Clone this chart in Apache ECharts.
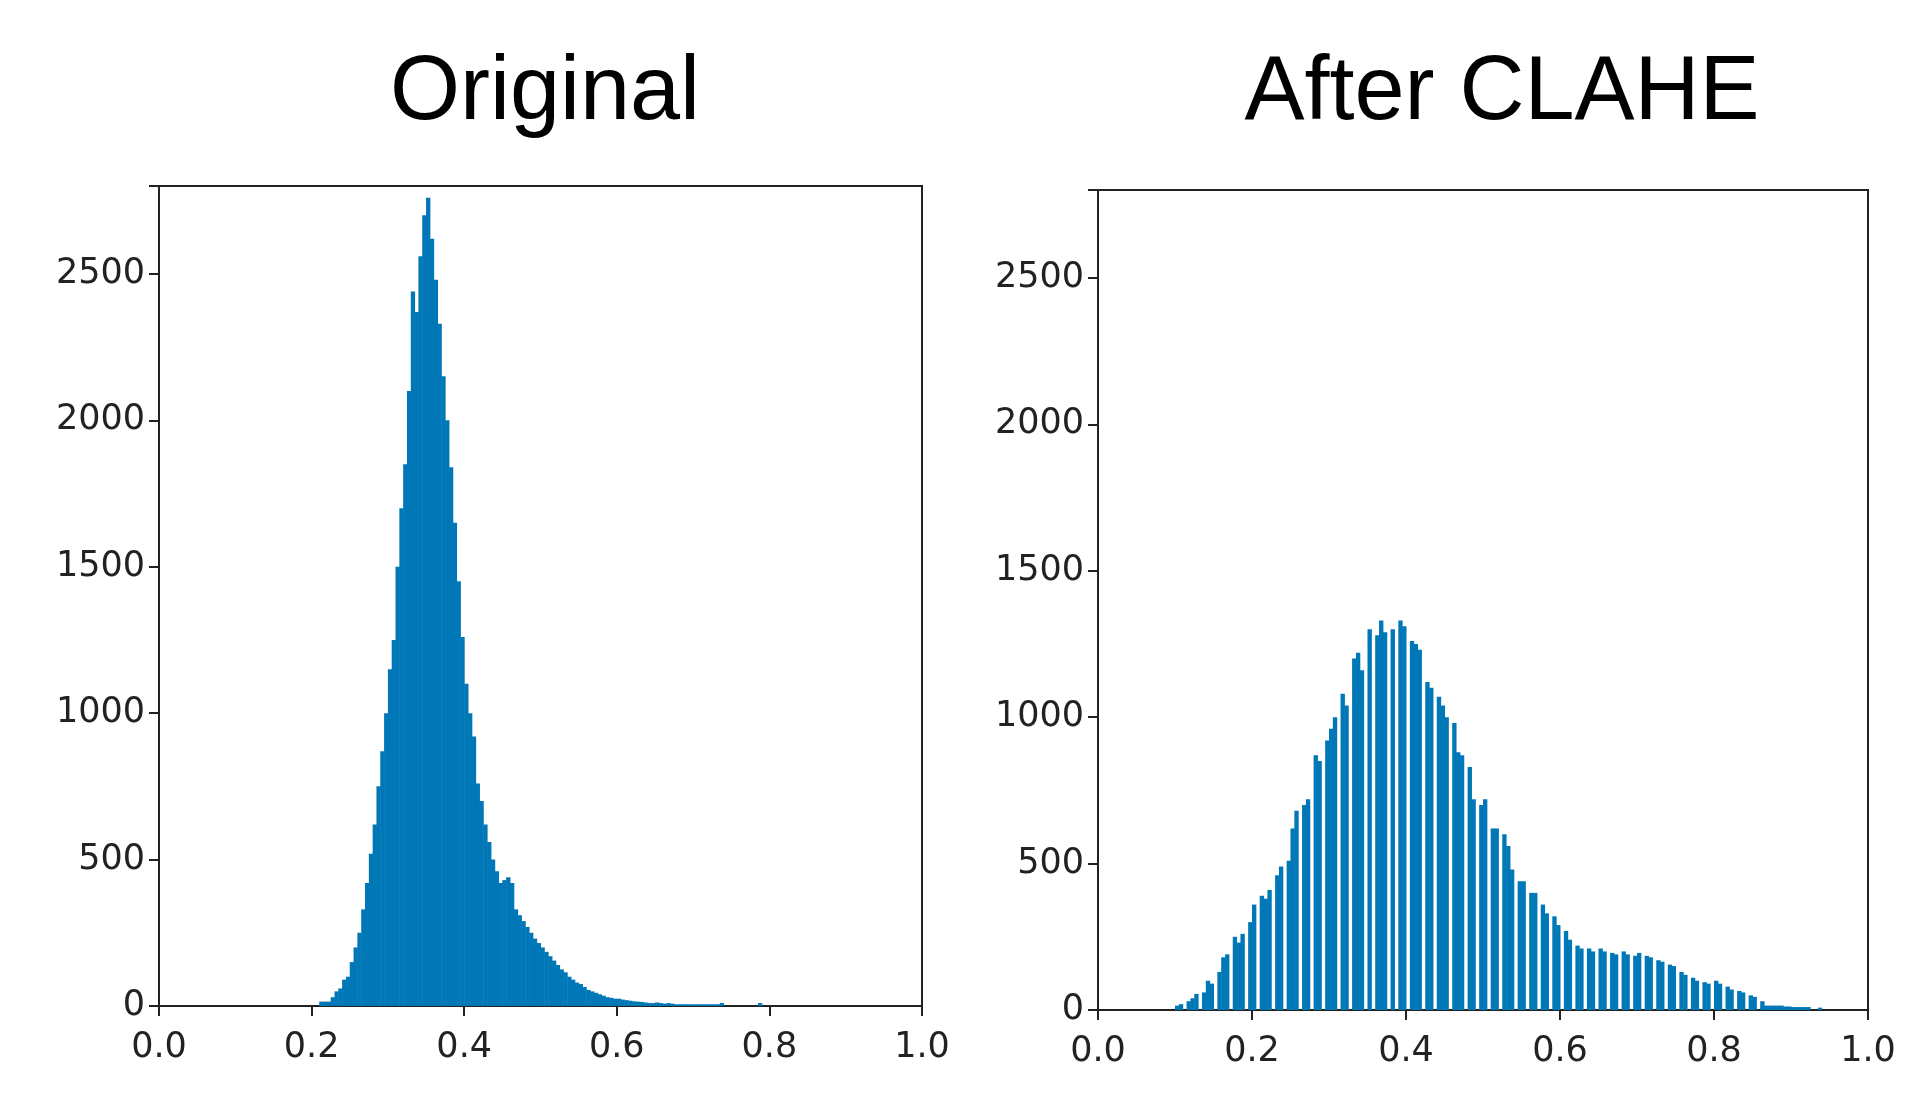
<!DOCTYPE html>
<html><head><meta charset="utf-8">
<script src="https://cdn.jsdelivr.net/npm/echarts@6/dist/echarts.min.js"></script>
<style>html,body{margin:0;background:#fff}#main{width:1910px;height:1104px}</style>
</head><body><div id="main"></div>
<script>
// histogram bins, width 0.005, starting at given value
var binWidth = 0.005;
var origStart = 0.21;
var origCounts = [15,15,15,30,50,60,90,100,150,200,250,330,420,520,620,750,870,1000,1150,1250,
  1500,1700,1850,2100,2440,2370,2560,2700,2760,2620,2480,2330,2150,2000,1840,1650,1450,1260,1100,1000,
  920,760,700,620,560,500,460,420,430,440,420,330,310,290,270,250,230,215,200,185,
  170,155,140,125,115,100,90,80,75,65,55,50,45,40,35,30,28,25,25,22,
  20,18,16,15,14,12,10,10,12,10,8,10,8,6,6,6,6,6,6,6,
  6,6,6,6,6,10,0,0,0,0,0,0,0,0,0,10];
var claheStart = 0.10;
var claheCounts = [15,20,0,30,40,55,0,60,100,90,
  0,130,180,190,0,250,230,260,0,300,
  360,0,390,380,410,0,460,490,0,510,
  620,680,0,700,720,0,870,850,0,920,
  960,1000,0,1080,1040,0,1200,1220,1160,0,
  1300,0,1280,1330,1290,0,1300,0,1330,1310,
  0,1260,1250,1230,0,1120,1100,0,1070,1040,
  1000,0,980,880,870,0,830,720,0,700,
  720,0,620,620,0,600,560,480,0,440,
  440,0,400,400,0,360,330,0,320,290,
  0,270,240,0,220,210,0,210,200,0,
  210,200,0,195,190,0,200,190,0,185,
  195,0,185,180,0,170,165,0,155,150,
  0,130,120,0,110,100,0,95,90,0,
  100,90,0,80,70,0,65,60,0,50,
  45,0,30,15,15,15,15,15,12,12,
  10,10,10,10,10,0,0,8];
var xTicks = [0, 0.2, 0.4, 0.6, 0.8, 1.0];
var yTicks = [0, 500, 1000, 1500, 2000, 2500];

function bins(start, counts) {
  return counts.map(function (c, i) { return [start + i * binWidth, start + (i + 1) * binWidth, c]; });
}
function renderBin(params, api) {
  var p0 = api.coord([api.value(0), api.value(2)]);
  var p1 = api.coord([api.value(1), 0]);
  return { type: 'rect', shape: { x: p0[0], y: p0[1], width: p1[0] - p0[0] + 0.5, height: p1[1] - p0[1] },
    style: { fill: '#0077b6' } };
}
var font = 'DejaVu Sans';
function xAx(i) {
  return { type: 'value', gridIndex: i, min: 0, max: 1, interval: 0.2,
    axisLine: { onZero: false, lineStyle: { color: '#222', width: 2 } },
    axisTick: { show: true, length: 10, lineStyle: { color: '#222', width: 2 } },
    axisLabel: { color: '#222', fontSize: 35, fontFamily: font, margin: 24, formatter: function (v) { return v.toFixed(1); } },
    splitLine: { show: false } };
}
function yAx(i) {
  return { type: 'value', gridIndex: i, min: 0, max: 2800, interval: 500,
    axisLine: { show: true, lineStyle: { color: '#222', width: 2 } },
    axisTick: { show: true, length: 10, lineStyle: { color: '#222', width: 2 } },
    axisLabel: { color: '#222', fontSize: 35, fontFamily: font, margin: 14,
      formatter: function (v) { return yTicks.indexOf(v) >= 0 ? String(v) : ''; } },
    splitLine: { show: false } };
}
var chart = echarts.init(document.getElementById('main'));
chart.setOption({
  animation: false,
  title: [
    { text: 'Original', left: 540, top: 44, textAlign: 'center', textStyle: { fontSize: 90, fontWeight: 'normal', fontFamily: 'Liberation Sans', color: '#000' } },
    { text: 'After CLAHE', left: 1497, top: 44, textAlign: 'center', textStyle: { fontSize: 90, fontWeight: 'normal', fontFamily: 'Liberation Sans', color: '#000' } }
  ],
  grid: [
    { left: 159, top: 186, width: 763, height: 820, show: true, borderColor: '#222', borderWidth: 2 },
    { left: 1098, top: 190, width: 770, height: 820, show: true, borderColor: '#222', borderWidth: 2 }
  ],
  xAxis: [xAx(0), xAx(1)],
  yAxis: [yAx(0), yAx(1)],
  series: [
    { type: 'custom', xAxisIndex: 0, yAxisIndex: 0, renderItem: renderBin, encode: { x: [0, 1], y: 2 }, data: bins(origStart, origCounts) },
    { type: 'custom', xAxisIndex: 1, yAxisIndex: 1, renderItem: renderBin, encode: { x: [0, 1], y: 2 }, data: bins(claheStart, claheCounts) }
  ]
});
</script></body></html>
